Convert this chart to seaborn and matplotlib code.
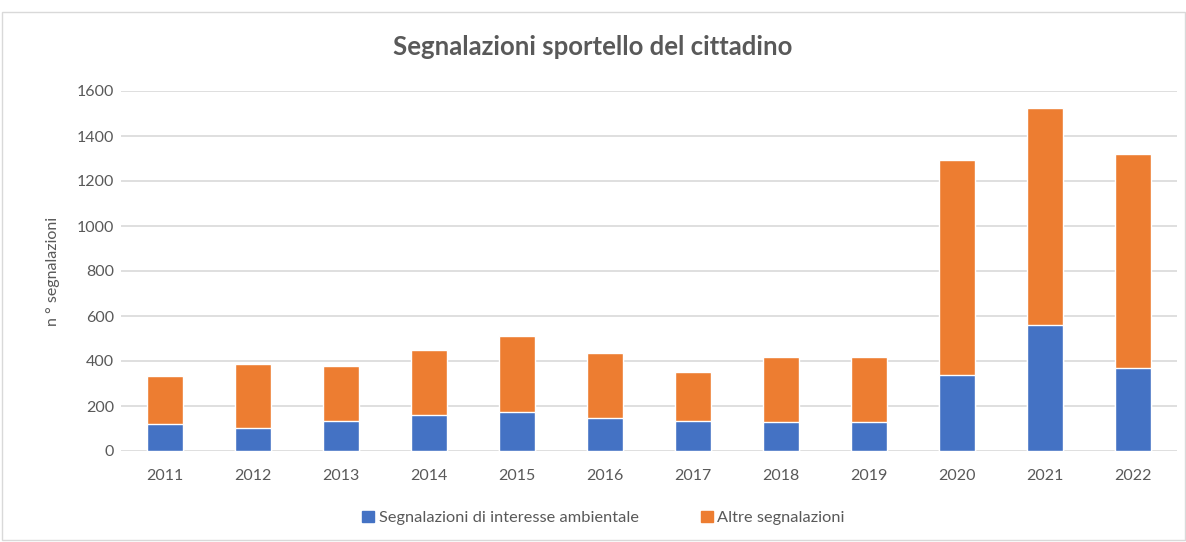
import numpy as np
import pandas as pd
import seaborn as sns
import matplotlib.pyplot as plt
from matplotlib.patches import Rectangle, Patch

# values
years = ['2011', '2012', '2013', '2014', '2015', '2016', '2017', '2018', '2019', '2020', '2021', '2022']
ambientale = [120, 104, 132, 159, 172, 145, 132, 128, 128, 338, 558, 369]
altre = [215, 283, 246, 292, 337, 291, 219, 290, 290, 955, 965, 952]

blue = '#4472C4'
orange = '#ED7D31'
grey = '#595959'

df = pd.DataFrame({'Anno': years, 'Ambientale': ambientale, 'Altre': altre})
df['Totale'] = df['Ambientale'] + df['Altre']

sns.set_style('white')
plt.rcParams['font.family'] = ['Lato', 'DejaVu Sans']

fig = plt.figure(figsize=(11.86, 5.42), dpi=100)
ax = fig.add_axes([121 / 1186, 1 - 451 / 542, 1056 / 1186, 360 / 542])

# stacked: total in orange, environmental part drawn over it in blue
sns.barplot(data=df, x='Anno', y='Totale', color=orange, width=0.4, saturation=1, ax=ax, zorder=3)
sns.barplot(data=df, x='Anno', y='Ambientale', color=blue, width=0.4, saturation=1, ax=ax, zorder=3)

ax.set_ylim(0, 1600)
ax.set_yticks(range(0, 1601, 200))
ax.set_xlim(-0.5, len(years) - 0.5)
ax.grid(axis='y', color='#D9D9D9', linewidth=1.2, zorder=0)
ax.set_axisbelow(True)
for s in ['top', 'right', 'left', 'bottom']:
    ax.spines[s].set_visible(False)
ax.tick_params(axis='both', length=0, labelsize=11.5, labelcolor=grey)
ax.tick_params(axis='y', pad=5)
ax.tick_params(axis='x', pad=13)
ax.set_xlabel('')
ax.set_ylabel('n ° segnalazioni', fontsize=11.5, color=grey, labelpad=12)

fig.text(0.5, 1 - 47 / 542, 'Segnalazioni sportello del cittadino', ha='center', va='center',
         fontsize=18.5, fontweight='bold', color=grey)

handles = [Patch(color=blue, label='Segnalazioni di interesse ambientale'),
           Patch(color=orange, label='Altre segnalazioni')]
fig.legend(handles=handles, loc='center', bbox_to_anchor=(0.509, 1 - 518 / 542), ncol=2,
           frameon=False, fontsize=11.8, labelcolor=grey, handlelength=0.7, handleheight=0.7,
           handletextpad=0.3, columnspacing=3.8)

fig.patches.append(Rectangle((0.002, 0.004), 0.997, 0.974, transform=fig.transFigure,
                             fill=False, edgecolor='#D9D9D9', linewidth=1))

plt.savefig('out.png', dpi=100)
